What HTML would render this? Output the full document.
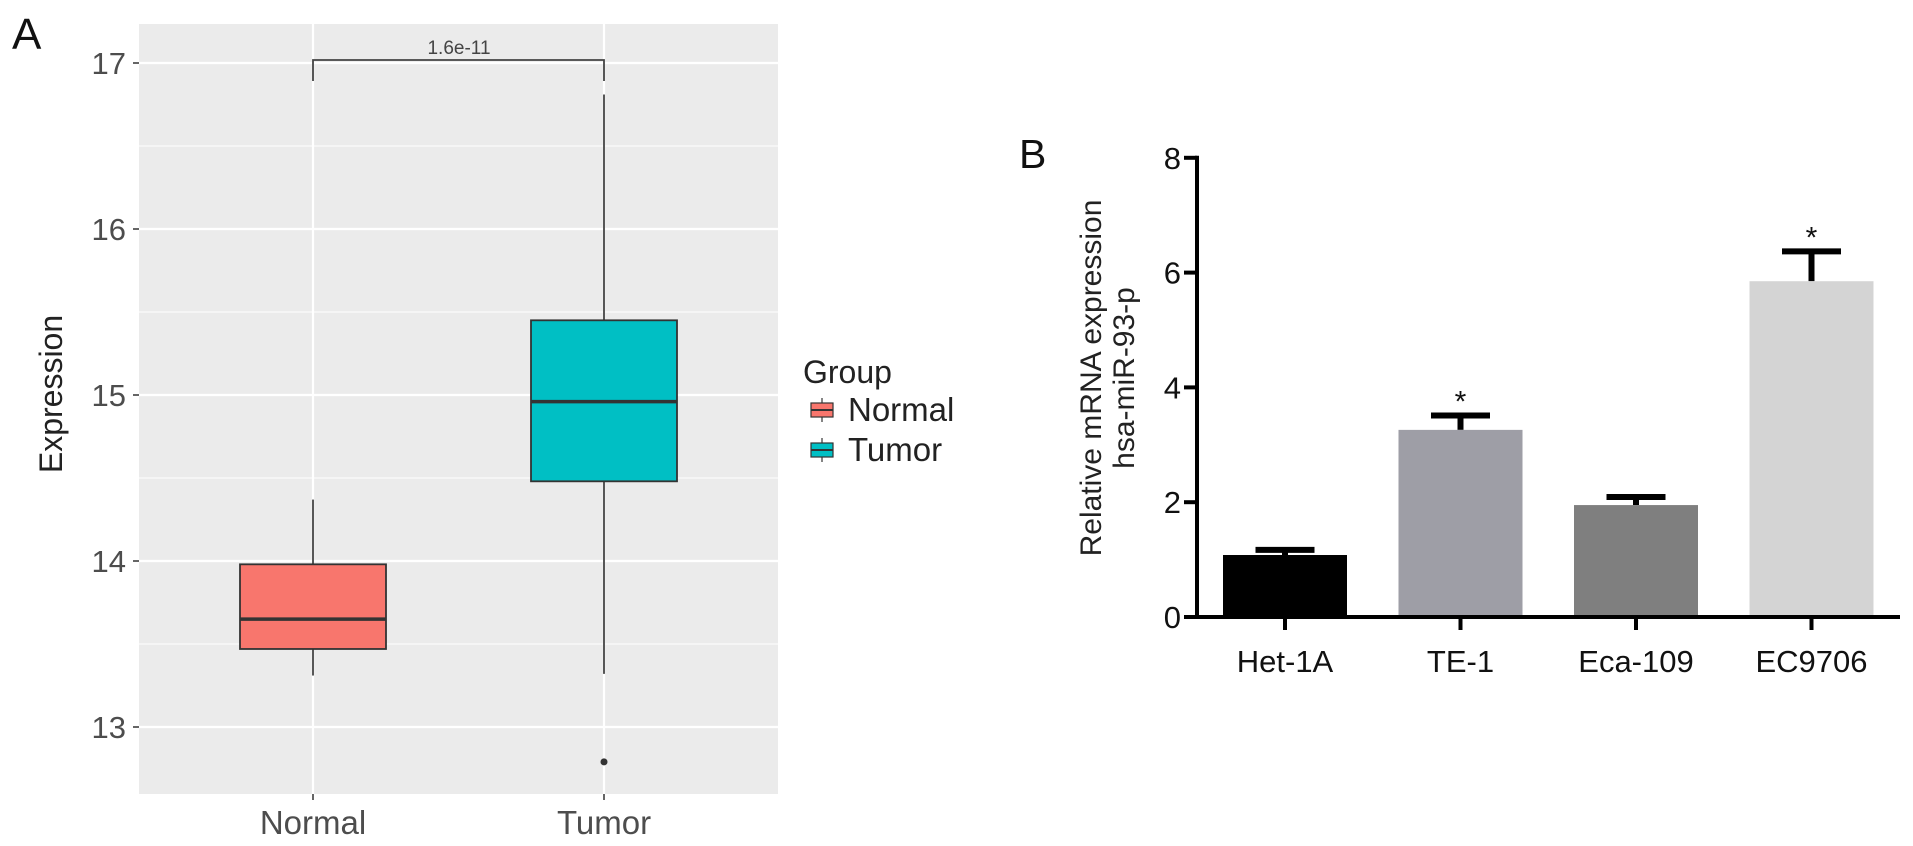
<!DOCTYPE html>
<html><head><meta charset="utf-8"><style>
html,body{margin:0;padding:0;background:#fff;}
svg{display:block;font-family:"Liberation Sans",Arial,sans-serif;}
</style></head><body>
<svg id="fig" width="1913" height="846" viewBox="0 0 1913 846">
<text x="12" y="49" font-size="44" fill="#111">A</text>
<rect x="139" y="24" width="639" height="770" fill="#ebebeb"/>
<g id="gridA"></g>
<g id="boxes"></g>
<g id="axA"></g>
<text x="0" y="0" transform="translate(62,394) rotate(-90)" text-anchor="middle" font-size="32" fill="#222">Expression</text>
<g>
<path d="M313,81 V60 H604 V81" fill="none" stroke="#444" stroke-width="1.8"/>
<text x="459" y="54" text-anchor="middle" font-size="19" fill="#444">1.6e-11</text>
</g>
<g>
<text x="803" y="383" font-size="32" fill="#222">Group</text>
<g>
<line x1="822" y1="398" x2="822" y2="422" stroke="#333" stroke-width="1.2"/>
<rect x="811" y="403" width="22" height="14" fill="#f8766d" stroke="#333" stroke-width="1.2"/>
<line x1="811" y1="410" x2="833" y2="410" stroke="#333" stroke-width="2"/>
<text x="848" y="421" font-size="33" fill="#222">Normal</text>
</g>
<g>
<line x1="822" y1="438" x2="822" y2="462" stroke="#333" stroke-width="1.2"/>
<rect x="811" y="443" width="22" height="14" fill="#00bfc4" stroke="#333" stroke-width="1.2"/>
<line x1="811" y1="450" x2="833" y2="450" stroke="#333" stroke-width="2"/>
<text x="848" y="461" font-size="33" fill="#222">Tumor</text>
</g>
</g>
<text x="1019" y="168" font-size="41" fill="#111">B</text>
<g id="barsB"></g>
<g id="axB"></g>
<g font-size="30" fill="#222" text-anchor="middle">
<text transform="translate(1101,378) rotate(-90)">Relative mRNA expression</text>
<text transform="translate(1134,378) rotate(-90)">hsa-miR-93-p</text>
</g>
</svg>
<script>
// Panel A data
const groupsA = ["Normal", "Tumor"];
const whiskerHigh = [14.37, 16.81];
const q3 = [13.98, 15.45];
const median = [13.65, 14.96];
const q1 = [13.47, 14.48];
const whiskerLow = [13.31, 13.32];
const outliers = [[], [12.79]];
const ticksA = [13, 14, 15, 16, 17];
const fillsA = ["#f8766d", "#00bfc4"];
// Panel B data
const cellLines = ["Het-1A", "TE-1", "Eca-109", "EC9706"];
const meanB = [1.08, 3.26, 1.95, 5.85];
const errB = [0.09, 0.25, 0.14, 0.52];
const sigB = [false, true, false, true];
const ticksB = [0, 2, 4, 6, 8];
const fillsB = ["#000000", "#9e9ea6", "#7f7f7f", "#d4d4d4"];

const NS = "http://www.w3.org/2000/svg";
function mk(tag, attrs, parent){const e=document.createElementNS(NS,tag);for(const k in attrs)e.setAttribute(k,attrs[k]);parent.appendChild(e);return e;}

const yA = v => 561 - (v - 14) * 166;
const xA = i => 313 + i * 291;
const gridA = document.getElementById("gridA");
for (let v = 12.5; v <= 17.25; v += 0.5) {
  const y = yA(v); if (y < 24 || y > 794) continue;
  const major = Number.isInteger(v);
  const l = mk("line", {x1:139, x2:778, y1:y, y2:y, stroke:"#fff", "stroke-width": major ? 2.2 : 1}, gridA);
  
  
}
groupsA.forEach((g, i) => {
  const l = mk("line", {x1:xA(i), x2:xA(i), y1:24, y2:794, stroke:"#fff", "stroke-width":2.2}, gridA);
  
  
});
const boxes = document.getElementById("boxes");
groupsA.forEach((g, i) => {
  const cx = xA(i), hw = 73;
  const grp = mk("g", {}, boxes);
  
  
  mk("line", {x1:cx, x2:cx, y1:yA(whiskerHigh[i]), y2:yA(q3[i]), stroke:"#444", "stroke-width":1.8}, grp);
  mk("line", {x1:cx, x2:cx, y1:yA(q1[i]), y2:yA(whiskerLow[i]), stroke:"#444", "stroke-width":1.8}, grp);
  mk("rect", {x:cx-hw, y:yA(q3[i]), width:hw*2, height:yA(q1[i])-yA(q3[i]), fill:fillsA[i], stroke:"#333", "stroke-width":1.8}, grp);
  mk("line", {x1:cx-hw, x2:cx+hw, y1:yA(median[i]), y2:yA(median[i]), stroke:"#333", "stroke-width":3.5}, grp);
  outliers[i].forEach(o => {
    const c = mk("circle", {cx:cx, cy:yA(o), r:3.5, fill:"#333"}, grp);
    
    
  });
});
const axA = document.getElementById("axA");
ticksA.forEach(v => {
  mk("line", {x1:133, x2:139, y1:yA(v), y2:yA(v), stroke:"#333", "stroke-width":1.5}, axA);
  const t = mk("text", {x:126, y:yA(v)+11, "text-anchor":"end", "font-size":31, fill:"#4d4d4d"}, axA);
  t.textContent = v;
  
  
});
groupsA.forEach((g, i) => {
  mk("line", {x1:xA(i), x2:xA(i), y1:794, y2:800, stroke:"#333", "stroke-width":1.5}, axA);
  const t = mk("text", {x:xA(i), y:834, "text-anchor":"middle", "font-size":33, fill:"#4d4d4d"}, axA);
  t.textContent = g;
  
  
});

const yB = v => 617 - v * 57.4;
const xB = i => 1285 + i * 175.5;
const bw = 124, capw = 59;
const barsB = document.getElementById("barsB");
cellLines.forEach((c, i) => {
  const cx = xB(i);
  const grp = mk("g", {}, barsB);
  
  
  const top = yB(meanB[i] + errB[i]);
  mk("line", {x1:cx, x2:cx, y1:yB(meanB[i]), y2:top, stroke:"#000", "stroke-width":6}, grp);
  mk("line", {x1:cx-capw/2, x2:cx+capw/2, y1:top, y2:top, stroke:"#000", "stroke-width":6}, grp);
  mk("rect", {x:cx-bw/2, y:yB(meanB[i]), width:bw, height:yB(0)-yB(meanB[i]), fill:fillsB[i]}, grp);
  if (sigB[i]) {
    const s = mk("text", {x:cx, y:top-4, "text-anchor":"middle", "font-size":30, fill:"#111"}, grp);
    s.textContent = "*";
    
    
  }
});
const axB = document.getElementById("axB");
mk("line", {x1:1197, x2:1197, y1:yB(8)-2, y2:yB(0)+2, stroke:"#000", "stroke-width":4}, axB);
mk("line", {x1:1195, x2:1900, y1:yB(0), y2:yB(0), stroke:"#000", "stroke-width":4}, axB);
ticksB.forEach(v => {
  mk("line", {x1:1184, x2:1197, y1:yB(v), y2:yB(v), stroke:"#000", "stroke-width":4}, axB);
  const t = mk("text", {x:1181, y:yB(v)+11, "text-anchor":"end", "font-size":31, fill:"#111"}, axB);
  t.textContent = v;
  
  
});
cellLines.forEach((c, i) => {
  mk("line", {x1:xB(i), x2:xB(i), y1:yB(0), y2:630, stroke:"#000", "stroke-width":4}, axB);
  const t = mk("text", {x:xB(i), y:672, "text-anchor":"middle", "font-size":31, fill:"#111"}, axB);
  t.textContent = c;
  
  
});
</script>
</body></html>
